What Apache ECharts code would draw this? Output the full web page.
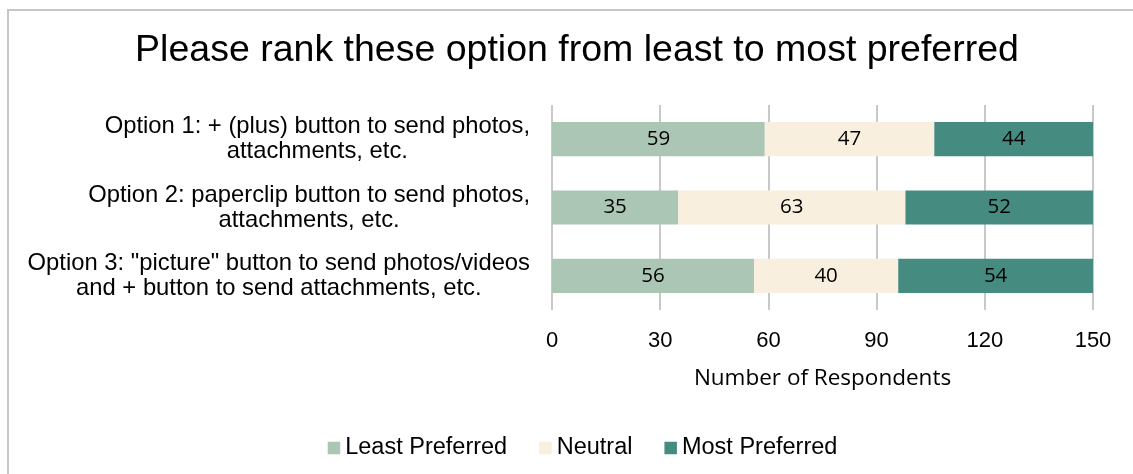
<!DOCTYPE html>
<html>
<head>
<meta charset="utf-8">
<script src="https://cdn.jsdelivr.net/npm/echarts@6/dist/echarts.min.js"></script>
<style>
html,body{margin:0;padding:0;width:1133px;height:474px;overflow:hidden;background:#fff;}
#frame{position:absolute;left:7px;top:9px;width:1200px;height:600px;border-left:2px solid #c6c6c6;border-top:2px solid #c6c6c6;box-sizing:border-box;}
#chart{position:absolute;left:10px;top:0;width:1134px;height:474px;}
</style>
</head>
<body>
<div id="frame"></div>
<div id="chart"></div>
<script>
const categories = [
  'Option 1: + (plus) button to send photos,\nattachments, etc.',
  'Option 2: paperclip button to send photos,\nattachments, etc.',
  'Option 3: "picture" button to send photos/videos\nand + button to send attachments, etc.'
];
const seriesNames = ['Least Preferred', 'Neutral', 'Most Preferred'];
const leastPreferred = [59, 35, 56];
const neutral = [47, 63, 40];
const mostPreferred = [44, 52, 54];
const xTicks = [0, 30, 60, 90, 120, 150];
const colors = ['#abc6b5', '#f8efde', '#458b80'];

const chart = echarts.init(document.getElementById('chart'));
const values = [leastPreferred, neutral, mostPreferred];
const series = seriesNames.map((name, i) => ({
  name: name,
  type: 'bar',
  stack: 'total',
  barWidth: '50%',
  data: values[i],
  itemStyle: { color: colors[i] },
  label: {
    show: true,
    position: 'inside',
    color: '#000',
    fontFamily: 'Open Sans',
    fontSize: 20.5
  }
}));

chart.setOption({
  animation: false,
  title: {
    text: 'Please rank these option from least to most preferred',
    left: 'center',
    top: 27,
    textStyle: { fontFamily: 'Liberation Sans', fontSize: 37.5, fontWeight: 'normal', color: '#000' }
  },
  legend: {
    data: seriesNames,
    left: 312.7,
    top: 431,
    itemWidth: 12.5,
    itemHeight: 12.5,
    itemGap: 32,
    icon: 'rect',
    textStyle: { fontFamily: 'Liberation Sans', fontSize: 23.5, color: '#000' }
  },
  grid: { left: 542, right: 51, top: 105, bottom: 164 },
  xAxis: {
    type: 'value',
    min: xTicks[0],
    max: xTicks[xTicks.length - 1],
    interval: 30,
    name: 'Number of Respondents',
    nameLocation: 'middle',
    nameGap: 57,
    nameTextStyle: { fontFamily: 'Open Sans', fontSize: 22.5, color: '#000' },
    axisLine: { show: false },
    axisTick: { show: false },
    axisLabel: { fontFamily: 'Liberation Sans', fontSize: 22, color: '#000', margin: 20 },
    splitLine: { show: true, lineStyle: { color: '#c8c8c8', width: 2 } }
  },
  yAxis: {
    type: 'category',
    data: categories,
    inverse: true,
    axisLine: { show: false },
    axisTick: { show: false },
    axisLabel: {
      margin: 22,
      align: 'right',
      formatter: function (v) {
        return v.split('\n').map(s => '{c|' + s + '}').join('\n');
      },
      rich: {
        c: { align: 'center', fontFamily: 'Liberation Sans', fontSize: 23.8, lineHeight: 25, color: '#000' }
      }
    }
  },
  series: series
});
</script>
</body>
</html>
